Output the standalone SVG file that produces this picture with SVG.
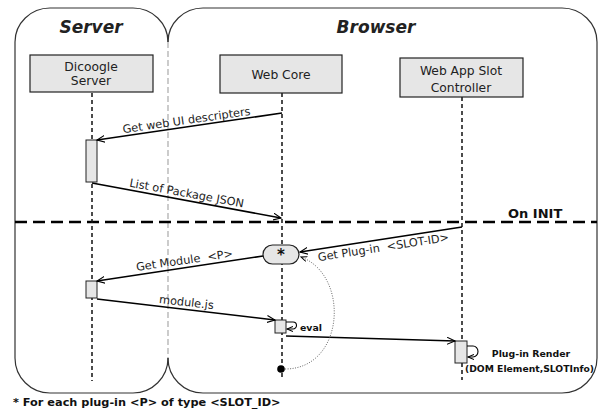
<svg xmlns="http://www.w3.org/2000/svg" width="598" height="413" viewBox="0 0 598 413">
<style>
.lane{fill:none;stroke:#333;stroke-width:1.2}
.title{font-family:"DejaVu Sans",sans-serif;font-weight:bold;font-style:italic;font-size:17px;fill:#222;text-anchor:middle}
.box{fill:#e6e6e6;stroke:#222;stroke-width:1.2}
.n{font-family:"DejaVu Sans",sans-serif;font-size:12.3px;fill:#222;text-anchor:middle}
.t{font-family:"DejaVu Sans",sans-serif;font-size:11.3px;fill:#222;text-anchor:middle}
.b{font-family:"DejaVu Sans",sans-serif;font-size:9.4px;font-weight:bold;fill:#111}
.life{stroke:#111;stroke-width:1.5;stroke-dasharray:4,3;fill:none}
.msg{stroke:#000;stroke-width:1.6;fill:none;marker-end:url(#ah)}
.act{fill:#e6e6e6;stroke:#222;stroke-width:1}
</style>
<defs>
<marker id="ah" markerWidth="10" markerHeight="8" refX="8" refY="4" orient="auto" markerUnits="userSpaceOnUse">
<path d="M0,0.5 L8,4 L0,7.5" fill="none" stroke="#000" stroke-width="1.1"/>
</marker>
<marker id="ahs" markerWidth="8" markerHeight="6" refX="6" refY="3" orient="auto" markerUnits="userSpaceOnUse">
<path d="M0,0.5 L6,3 L0,5.5" fill="none" stroke="#000" stroke-width="1"/>
</marker>
</defs>
<g id="lanes">
<path class="lane" d="M168,42 A35,34 0 0 0 133,8 L50,8 A35,34 0 0 0 15,42 L15,358 A35,35 0 0 0 50,393 L133,393 A35,35 0 0 0 168,358"/>
<path class="lane" d="M168,42 A35,34 0 0 1 203,8 L562,8 A35,34 0 0 1 597,42 L597,358 A35,35 0 0 1 562,393 L203,393 A35,35 0 0 1 168,358"/>
<line x1="168" y1="42" x2="168" y2="358" stroke="#aaa" stroke-width="1.2" stroke-dasharray="6,3"/>
<text class="title" x="91" y="33">Server</text>
<text class="title" x="376" y="33">Browser</text>
</g>
<g id="init-line">
<line x1="15" y1="222" x2="597" y2="222" stroke="#000" stroke-width="2.5" stroke-dasharray="12,6"/>
<text class="b" x="508" y="218" style="font-size:13px">On INIT</text>
</g>
<g id="lifelines">
<line class="life" x1="92" y1="93" x2="92" y2="381"/>
<line class="life" x1="282" y1="93" x2="282" y2="379"/>
<line class="life" x1="462" y1="97" x2="462" y2="380"/>
</g>
<g id="dicoogle-server">
<rect class="box" x="30" y="55" width="123" height="37"/>
<text class="n" x="91" y="71">Dicoogle</text>
<text class="n" x="91" y="85">Server</text>
</g>
<g id="web-core">
<rect class="box" x="220" y="55" width="122" height="38"/>
<text class="n" x="281" y="79">Web Core</text>
</g>
<g id="slot-controller">
<rect class="box" x="400" y="58" width="123" height="39"/>
<text class="n" x="461" y="75">Web App Slot</text>
<text class="n" x="461" y="92">Controller</text>
</g>
<g id="activations">
<rect class="act" x="86" y="140" width="11" height="42"/>
<rect class="act" x="86" y="281" width="11" height="17"/>
<rect class="act" x="275" y="320" width="11" height="13"/>
<rect class="act" x="455" y="341" width="12" height="22"/>
</g>
<g id="star-node">
<rect x="263" y="245" width="36" height="19" rx="9.5" fill="#e6e6e6" stroke="#222" stroke-width="1.2"/>
<text x="281" y="260" style="font-family:'DejaVu Sans',sans-serif;font-weight:bold;font-size:15px;text-anchor:middle;fill:#111">*</text>
</g>
<g id="connectors">
<line class="msg" x1="282" y1="113" x2="97" y2="140"/>
<text class="t" transform="translate(187,124) rotate(-8.2)">Get web UI descripters</text>
<line class="msg" x1="92" y1="183" x2="281" y2="218"/>
<text class="t" transform="translate(186,197) rotate(10.4)">List of Package JSON</text>
<line class="msg" x1="462" y1="227" x2="300" y2="252"/>
<text class="t" transform="translate(384,251) rotate(-8.8)" xml:space="preserve">Get Plug-in  &lt;SLOT-ID&gt;</text>
<line class="msg" x1="263" y1="256" x2="97" y2="281"/>
<text class="t" transform="translate(185,264) rotate(-8.1)" xml:space="preserve">Get Module  &lt;P&gt;</text>
<line class="msg" x1="97" y1="299" x2="275" y2="320"/>
<text class="t" transform="translate(186,306) rotate(6.5)">module.js</text>
<path d="M286,322 L293,322 A3.5,3.5 0 0 1 293,329 L287,329" fill="none" stroke="#000" stroke-width="1.1" marker-end="url(#ahs)"/>
<text class="b" x="300" y="331">eval</text>
<line class="msg" x1="286" y1="336" x2="455" y2="341"/>
<path d="M467,346 L473,346 A5,5.5 0 0 1 473,357 L468,357" fill="none" stroke="#000" stroke-width="1.1" marker-end="url(#ahs)"/>
<text class="b" x="531" y="357" text-anchor="middle">Plug-in Render</text>
<text class="b" x="465" y="372" textLength="129" lengthAdjust="spacingAndGlyphs">(DOM Element,SLOTInfo)</text>
<path d="M285,369 C345,369 350,275 301,257" fill="none" stroke="#555" stroke-width="0.9" stroke-dasharray="1,1.5" marker-end="url(#ahs)"/>
<circle cx="281" cy="369" r="3.8" fill="#000"/>
</g>
<text class="b" x="13" y="406" style="font-size:11.3px">* For each plug-in &lt;P&gt; of type &lt;SLOT_ID&gt;</text>
</svg>
